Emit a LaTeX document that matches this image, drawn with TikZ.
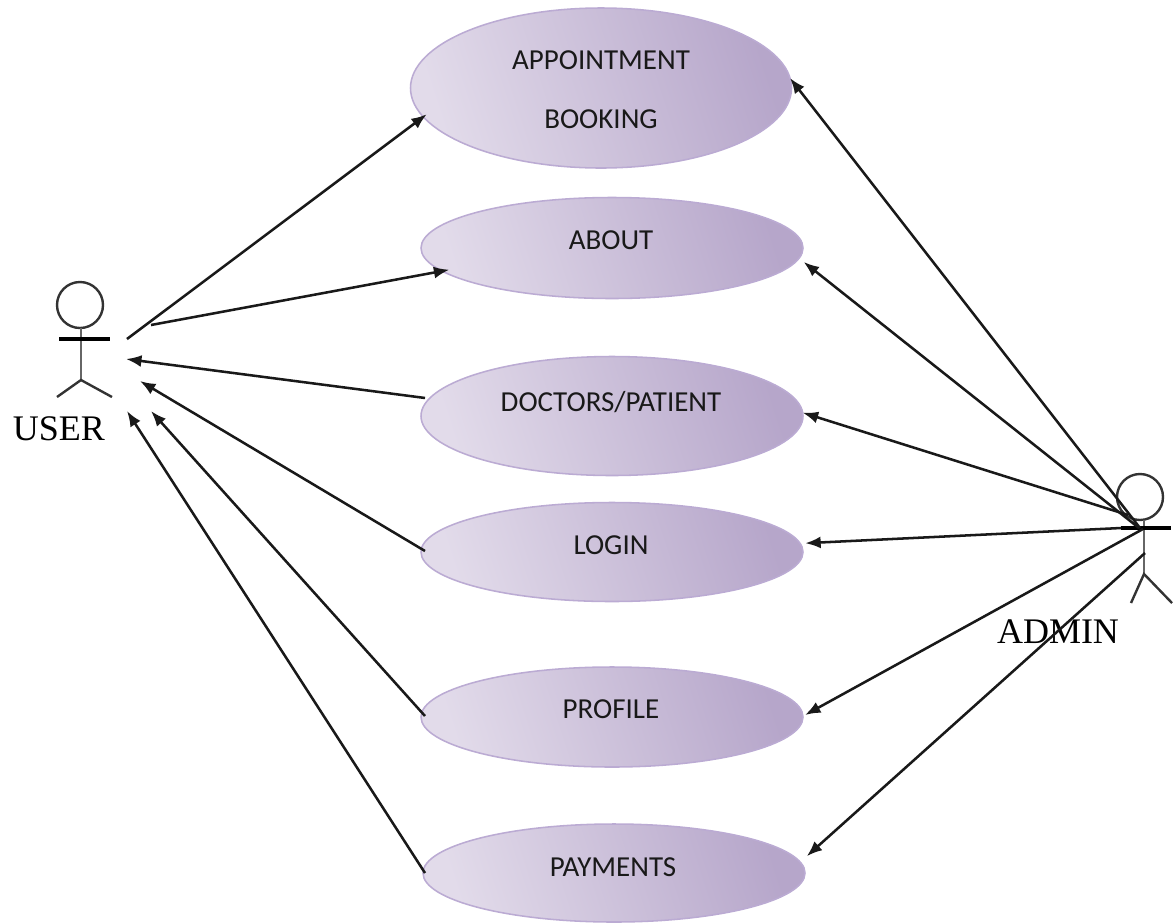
\documentclass[tikz,border=0pt]{standalone}
\usepackage{fontspec}
\setmainfont{Liberation Serif}
\newfontfamily\ucfont{Carlito}
\usepackage{xcolor}
\usetikzlibrary{shapes.geometric, arrows.meta, positioning, calc}
\definecolor{ucedge}{HTML}{BBABD3}
\definecolor{uclight}{HTML}{E2DBEA}
\definecolor{ucdark}{HTML}{B6A6CA}

\begin{document}
\begin{tikzpicture}[
    x=0.025cm, y=-0.025cm,
    usecase/.style={draw=ucedge, line width=1.1pt, ellipse, inner sep=0pt, outer sep=0pt, minimum width=382*0.025cm,
        left color=uclight, right color=ucdark, shading angle=108},
    uctext/.style={font=\ucfont\fontsize{20.6}{24}\selectfont, text=black!90, inner sep=0pt},
    actorname/.style={font=\fontsize{25.6}{30}\selectfont, inner sep=0pt},
    head/.style={draw=black!80, line width=1.7pt, circle, inner sep=0pt, outer sep=0pt, minimum size=46*0.025cm},
    spine/.style={draw=black!60, line width=2pt},
    limb/.style={draw=black!80, line width=1.7pt},
    bar/.style={draw=black, line width=2.2pt},
    arrow/.style={-{Latex[length=11pt,width=8.5pt]}, line width=1.8pt, draw=black!90}
]
    \useasboundingbox (0,0) rectangle (1176,923);

    % Use cases
    \node[usecase, minimum width=381*0.025cm, minimum height=160*0.025cm] (book) at (601,88) {};
    \node[usecase, minimum height=101*0.025cm] (about) at (612,248) {};
    \node[usecase, minimum height=119*0.025cm] (doctors) at (612,416) {};
    \node[usecase, minimum height=99*0.025cm] (login) at (612,552) {};
    \node[usecase, minimum height=100*0.025cm] (profile) at (612,717) {};
    \node[usecase, minimum height=98*0.025cm] (payments) at (614,873) {};

    \node[uctext] (booka) at (601,60) {APPOINTMENT};
    \node[uctext] (bookb) at (601,119) {BOOKING};
    \node[uctext] (aboutt) at (611,240) {ABOUT};
    \node[uctext] (doctorst) at (611,402) {DOCTORS/PATIENT};
    \node[uctext] (logint) at (611,545) {LOGIN};
    \node[uctext] (profilet) at (611,709) {PROFILE};
    \node[uctext] (paymentst) at (613,867) {PAYMENTS};

    % USER
    \node[head] (userhead) at (80,305) {};
    \coordinate (userhip) at (81,380);
    \draw[spine] (userhead.south) ++(1,0) -- (userhip);
    \draw[bar] (59,339) -- (110,339);
    \draw[limb] (57,397) -- (userhip) -- (112,397);
    \node[actorname] (user) at (59,429) {USER};

    % ADMIN
    \node[head] (adminhead) at (1140,497) {};
    \coordinate (adminhip) at (1144,574);
    \draw[spine] (1144,520) -- (adminhip);
    \draw[bar] (1121,528) -- (1171,528);
    \draw[limb] (1131,603) -- (adminhip) -- (1172,603);
    \node[actorname] (admin) at (1058,632) {ADMIN};

    % Free ends at the actors
    \coordinate (ubook) at (127,339);
    \coordinate (uabout) at (151,325);
    \coordinate (udoctors) at (126,359);
    \coordinate (ulogin) at (140,381);
    \coordinate (uprofile) at (151,411);
    \coordinate (upayments) at (127,411);
    \coordinate (abook) at (1140,528);
    \coordinate (aabout) at (1139,528);
    \coordinate (adoctors) at (1128,515);
    \coordinate (alogin) at (1121,528);
    \coordinate (aprofile) at (1143,529);
    \coordinate (apayments) at (1145,553);

    % User arrows
    \draw[arrow] (ubook) -- ($(book.189)+(4,-2)$);
    \draw[arrow] (uabout) -- ($(about.188)+(6,-2)$);
    \draw[arrow] ($(doctors.174.5)+(-6,1)$) -- (udoctors);
    \draw[arrow] ($(login.west)+(4,-1)$) -- (ulogin);
    \draw[arrow] ($(profile.west)+(4,-1)$) -- (uprofile);
    \draw[arrow] ($(payments.west)+(2,0)$) -- (upayments);

    % Admin arrows
    \draw[arrow] (abook) -- (book.3);
    \draw[arrow] (aabout) -- ($(about.-4.5)+(7,1)$);
    \draw[arrow] (adoctors) -- (doctors.1.5);
    \draw[arrow] (alogin) -- ($(login.3)+(6,1)$);
    \draw[arrow] (aprofile) -- ($(profile.east)+(2,-2)$);
    \draw[arrow] (apayments) -- ($(payments.5.4)+(12,-1)$);
\end{tikzpicture}
\end{document}
